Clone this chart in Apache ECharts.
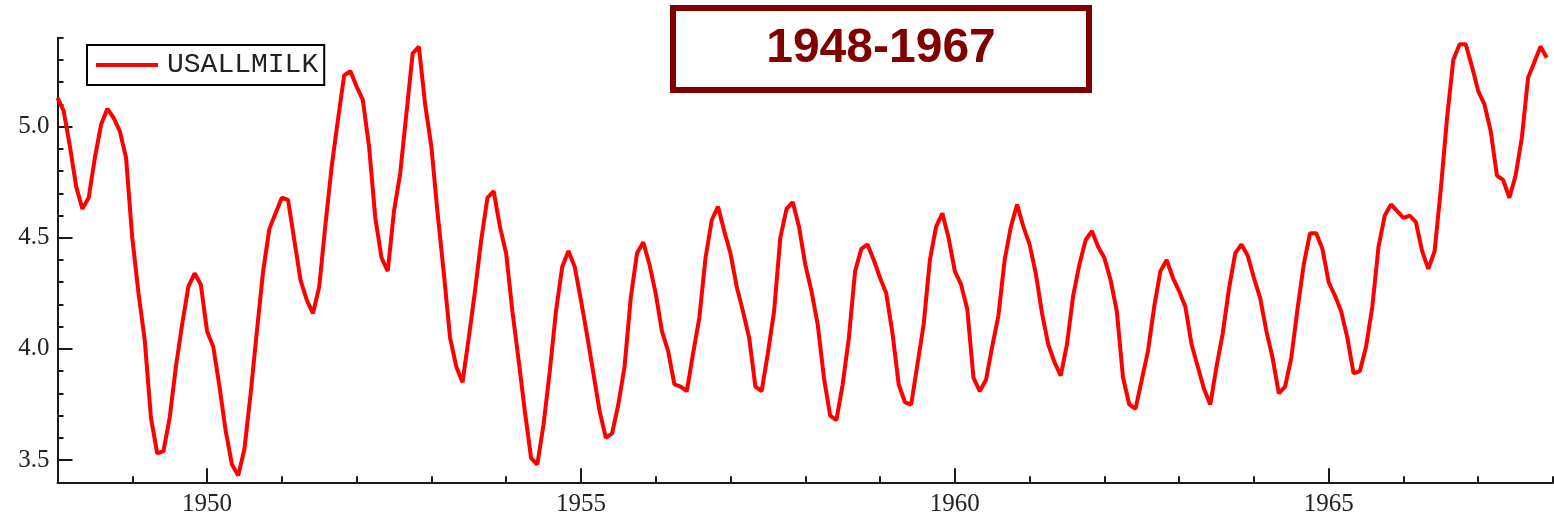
<!DOCTYPE html>
<html>
<head>
<meta charset="utf-8">
<script src="https://cdn.jsdelivr.net/npm/echarts@6/dist/echarts.min.js"></script>
<style>
  html, body { margin: 0; padding: 0; background: #ffffff; }
  #chart { width: 1554px; height: 519px; }
</style>
</head>
<body>
<div id="chart"></div>
<script>
// ---- data ----
const seriesName = 'USALLMILK';
const titleText = '1948-1967';
const startYear = 1948;
// monthly values, Jan 1948 .. Dec 1967 (one row per year)
const usallmilk = [
  5.13, 5.07, 4.91, 4.73, 4.63, 4.68, 4.86, 5.01, 5.08, 5.04, 4.98, 4.86,
  4.50, 4.25, 4.04, 3.69, 3.53, 3.54, 3.69, 3.92, 4.11, 4.28, 4.34, 4.29,
  4.08, 4.01, 3.83, 3.63, 3.48, 3.43, 3.55, 3.80, 4.08, 4.35, 4.54, 4.61,
  4.68, 4.67, 4.49, 4.31, 4.22, 4.16, 4.28, 4.56, 4.82, 5.03, 5.23, 5.25,
  5.18, 5.12, 4.91, 4.59, 4.41, 4.35, 4.62, 4.79, 5.06, 5.33, 5.36, 5.10,
  4.91, 4.61, 4.34, 4.05, 3.92, 3.85, 4.05, 4.26, 4.49, 4.68, 4.71, 4.55,
  4.43, 4.17, 3.95, 3.72, 3.51, 3.48, 3.66, 3.90, 4.17, 4.37, 4.44, 4.37,
  4.22, 4.06, 3.89, 3.72, 3.60, 3.62, 3.75, 3.92, 4.23, 4.43, 4.48, 4.38,
  4.25, 4.08, 3.99, 3.84, 3.83, 3.81, 3.98, 4.14, 4.41, 4.58, 4.64, 4.53,
  4.43, 4.28, 4.17, 4.05, 3.83, 3.81, 3.98, 4.17, 4.50, 4.63, 4.66, 4.55,
  4.38, 4.26, 4.11, 3.87, 3.70, 3.68, 3.84, 4.05, 4.35, 4.45, 4.47, 4.40,
  4.32, 4.25, 4.07, 3.84, 3.76, 3.75, 3.93, 4.11, 4.40, 4.55, 4.61, 4.50,
  4.35, 4.29, 4.18, 3.87, 3.81, 3.86, 4.01, 4.15, 4.40, 4.55, 4.65, 4.55,
  4.47, 4.34, 4.16, 4.02, 3.94, 3.88, 4.02, 4.24, 4.38, 4.49, 4.53, 4.46,
  4.41, 4.31, 4.17, 3.87, 3.75, 3.73, 3.86, 3.99, 4.19, 4.35, 4.40, 4.32,
  4.26, 4.19, 4.02, 3.92, 3.82, 3.75, 3.92, 4.07, 4.27, 4.43, 4.47, 4.42,
  4.32, 4.23, 4.08, 3.96, 3.80, 3.83, 3.96, 4.18, 4.38, 4.52, 4.52, 4.45,
  4.30, 4.24, 4.17, 4.05, 3.89, 3.90, 4.01, 4.19, 4.46, 4.60, 4.65, 4.62,
  4.59, 4.60, 4.57, 4.44, 4.36, 4.44, 4.72, 5.04, 5.30, 5.37, 5.37, 5.27,
  5.16, 5.10, 4.98, 4.78, 4.76, 4.68, 4.78, 4.95, 5.22, 5.29, 5.36, 5.31
];
const xMinorTickYears = [1948, 1949, 1950, 1951, 1952, 1953, 1954, 1955, 1956, 1957, 1958,
  1959, 1960, 1961, 1962, 1963, 1964, 1965, 1966, 1967, 1968];
const xLabelYears = [1950, 1955, 1960, 1965];
const yMajorTicks = [3.5, 4.0, 4.5, 5.0];
const yMinorTicks = [3.4, 3.5, 3.6, 3.7, 3.8, 3.9, 4.0, 4.1, 4.2, 4.3, 4.4, 4.5, 4.6, 4.7,
  4.8, 4.9, 5.0, 5.1, 5.2, 5.3, 5.4];

// ---- build ----
const points = usallmilk.map((v, i) => [startYear + i / 12, v]);
const axisColor = '#1a1a1a';
const labelFont = { fontFamily: 'Liberation Serif', fontSize: 25, color: '#222' };

const chart = echarts.init(document.getElementById('chart'), null, { renderer: 'canvas' });
chart.setOption({
  animation: false,
  backgroundColor: '#ffffff',
  grid: { left: 57.5, right: 1, top: 37.7, bottom: 36.7, containLabel: false },
  legend: {
    left: 87, top: 45,
    orient: 'horizontal',
    padding: [6, 6, 6, 9],
    icon: 'rect',
    itemWidth: 62, itemHeight: 4,
    borderColor: '#000', borderWidth: 2,
    backgroundColor: '#fff',
    textStyle: { fontFamily: 'Liberation Mono', fontSize: 28, color: '#222', lineHeight: 25, padding: [0, 0, 0, 4] },
    data: [seriesName]
  },
  xAxis: [
    {
      type: 'value', min: 1948, max: 1968, position: 'bottom',
      axisLine: { show: true, lineStyle: { color: axisColor, width: 2 } },
      axisTick: { show: true, inside: true, length: 6, customValues: xMinorTickYears, lineStyle: { color: axisColor, width: 2 } },
      axisLabel: { show: false },
      splitLine: { show: false }
    },
    {
      type: 'value', min: 1948, max: 1968, position: 'bottom',
      axisLine: { show: false },
      axisTick: { show: true, inside: true, length: 14, customValues: xLabelYears, lineStyle: { color: axisColor, width: 2 } },
      axisLabel: Object.assign({ show: true, customValues: xLabelYears, margin: 10, formatter: v => String(Math.round(v)) }, labelFont),
      splitLine: { show: false }
    }
  ],
  yAxis: [
    {
      type: 'value', min: 3.4, max: 5.4, position: 'left',
      axisLine: { show: true, lineStyle: { color: axisColor, width: 2 } },
      axisTick: { show: true, inside: true, length: 6, customValues: yMinorTicks, lineStyle: { color: axisColor, width: 2 } },
      axisLabel: { show: false },
      splitLine: { show: false }
    },
    {
      type: 'value', min: 3.4, max: 5.4, position: 'left',
      axisLine: { show: false },
      axisTick: { show: true, inside: true, length: 15, customValues: yMajorTicks, lineStyle: { color: axisColor, width: 2 } },
      axisLabel: Object.assign({ show: true, customValues: yMajorTicks, margin: 8, formatter: v => v.toFixed(1) }, labelFont),
      splitLine: { show: false }
    }
  ],
  series: [{
    name: seriesName,
    type: 'line',
    xAxisIndex: 0, yAxisIndex: 0,
    data: points,
    showSymbol: false, symbol: 'none',
    smooth: false,
    lineStyle: { color: '#ff0000', width: 4 },
    itemStyle: { color: '#ff0000' }
  }],
  graphic: [{
    type: 'group',
    children: [
      { type: 'rect', shape: { x: 673, y: 8, width: 416, height: 82 },
        style: { fill: '#ffffff', stroke: '#800000', lineWidth: 6 } },
      { type: 'text', x: 881, y: 49,
        style: { text: titleText, fill: '#800000', font: 'bold 48px "Liberation Sans", Arial, sans-serif',
                 textAlign: 'center', textVerticalAlign: 'middle' } }
    ]
  }]
});
</script>
</body>
</html>
